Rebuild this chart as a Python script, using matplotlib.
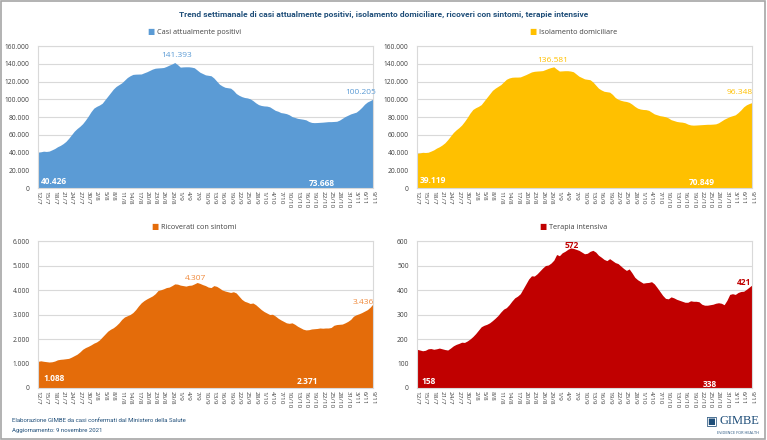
import numpy as np
import pandas as pd
import matplotlib
matplotlib.use("Agg")
import matplotlib.pyplot as plt
from matplotlib.ticker import FuncFormatter, MultipleLocator
from matplotlib.patches import Rectangle

plt.rcParams['font.family'] = ['Open Sans', 'DejaVu Sans']
narrow = ['Roboto', 'DejaVu Sans']

# giorni dal 12/7/2021 al 9/11/2021
giorni = pd.date_range('2021-07-12', '2021-11-09', freq='D')
etichette = [f"{d.day}/{d.month}" for d in giorni]

# Casi attualmente positivi (migliaia)
positivi = [40.426, 40.8, 41.5, 41.2, 41.6, 43.0, 44.5,
            46.5, 48.0, 50.0, 52.5, 56.0, 60.0, 64.0,
            67.0, 69.5, 72.5, 76.5, 81.0, 86.0, 90.0,
            92.0, 93.5, 95.5, 99.5, 103.5, 107.5, 111.5,
            114.5, 116.5, 118.5, 121.5, 124.5, 126.5, 128.0,
            128.3, 128.4, 128.5, 129.8, 131.0, 132.5, 134.0,
            135.0, 135.3, 135.5, 135.8, 137.0, 138.5, 139.8,
            141.393, 139.0, 136.2, 136.5, 136.6, 136.6, 136.2,
            135.5, 133.0, 130.5, 129.0, 127.5, 127.0, 126.5,
            124.0, 120.5, 117.0, 115.0, 113.5, 113.0, 112.5,
            110.0, 106.5, 104.5, 103.0, 102.0, 101.5, 100.5,
            98.5, 96.0, 94.0, 93.0, 92.5, 92.3, 91.5,
            89.5, 87.5, 86.5, 85.0, 84.5, 83.8, 82.5,
            80.5, 79.5, 78.5, 78.0, 77.5, 76.8, 75.0,
            73.9, 73.668, 73.8, 74.0, 74.2, 74.5, 74.8,
            74.8, 75.0, 75.2, 76.5, 78.5, 80.5, 82.0,
            83.5, 84.5, 85.5, 88.0, 91.0, 94.5, 97.0,
            98.5, 100.205]

# Isolamento domiciliare (migliaia)
isolamento = [39.119, 39.5, 40.2, 40.0, 40.3, 41.6, 43.0,
              45.0, 46.5, 48.5, 51.0, 54.5, 58.5, 62.5,
              65.5, 68.0, 71.0, 75.0, 79.5, 84.5, 88.5,
              90.5, 92.0, 94.0, 98.0, 102.0, 106.0, 110.0,
              112.5, 114.5, 116.5, 119.5, 122.5, 124.0, 124.8,
              125.0, 125.0, 125.2, 126.5, 127.8, 129.3, 130.8,
              131.5, 131.8, 132.0, 132.3, 133.5, 134.8, 135.8,
              136.581, 134.0, 131.8, 132.0, 132.2, 132.2, 131.8,
              131.0, 128.5, 126.0, 124.5, 123.0, 122.5, 122.0,
              119.5, 116.0, 112.5, 110.5, 109.0, 108.5, 108.0,
              105.5, 102.0, 100.0, 98.8, 98.0, 97.5, 96.5,
              94.5, 92.0, 90.0, 89.0, 88.5, 88.3, 87.5,
              85.5, 83.5, 82.5, 81.5, 81.0, 80.3, 79.0,
              77.0, 76.0, 75.0, 74.5, 74.2, 73.5, 72.0,
              71.1, 70.849, 71.0, 71.2, 71.4, 71.6, 71.8,
              71.8, 72.0, 72.3, 73.5, 75.5, 77.5, 79.0,
              80.5, 81.5, 82.5, 85.0, 88.0, 91.5, 93.8,
              95.2, 96.348]

# Ricoverati con sintomi
ricoverati = [1088, 1110, 1090, 1075, 1060, 1070, 1100,
              1150, 1170, 1180, 1195, 1210, 1260, 1320,
              1380, 1470, 1580, 1650, 1700, 1760, 1830,
              1880, 1960, 2080, 2200, 2320, 2400, 2460,
              2550, 2660, 2800, 2900, 2950, 3000, 3080,
              3200, 3350, 3480, 3570, 3640, 3700, 3760,
              3850, 3980, 4010, 4050, 4100, 4120, 4180,
              4250, 4240, 4200, 4180, 4160, 4190, 4200,
              4250, 4307, 4270, 4220, 4180, 4120, 4100,
              4180, 4150, 4080, 4000, 3960, 3930, 3900,
              3930, 3880, 3750, 3620, 3540, 3500, 3450,
              3470, 3400, 3300, 3200, 3120, 3060, 3000,
              3010, 2940, 2850, 2780, 2720, 2660, 2640,
              2660, 2600, 2520, 2460, 2400, 2371, 2380,
              2410, 2420, 2430, 2450, 2440, 2450, 2450,
              2470, 2560, 2590, 2600, 2610, 2660, 2720,
              2800, 2930, 2990, 3030, 3080, 3140, 3200,
              3300, 3436]

# Terapia intensiva
intensiva = [158, 155, 152, 154, 160, 161, 158,
             160, 163, 160, 157, 155, 163, 172,
             178, 182, 187, 186, 192, 200, 210,
             222, 236, 250, 256, 260, 266, 275,
             285, 296, 310, 322, 328, 340, 355,
             368, 375, 385, 405, 425, 445, 458,
             457, 466, 478, 490, 500, 502, 510,
             522, 545, 540, 552, 558, 566, 572,
             570, 566, 562, 555, 548, 550, 558,
             562, 555, 542, 534, 525, 520, 528,
             520, 512, 508, 498, 488, 480, 486,
             470, 452, 442, 435, 428, 430, 431,
             434, 425, 410, 394, 378, 366, 364,
             372, 368, 362, 358, 354, 350, 350,
             356, 354, 354, 352, 342, 338, 338,
             340, 342, 346, 348, 346, 340, 358,
             382, 385, 382, 390, 394, 395, 403,
             412, 421]

pannelli = [
    dict(nome='Casi attualmente positivi', y=np.array(positivi) * 1000, col='#5B9BD5',
         col_top='#5B9BD5', ymax=160000, step=20000, pos=[0.0495, 0.5727, 0.4368, 0.3227],
         lab=[(49.5, 149000, '141.393', 'top'), (115.5, 108000, '100.205', 'top'),
              (1, 7000, '40.426', 'in'), (101.5, 5600, '73.668', 'in')]),
    dict(nome='Isolamento domiciliare', y=np.array(isolamento) * 1000, col='#FFC000',
         col_top='#FFC000', ymax=160000, step=20000, pos=[0.5437, 0.5727, 0.4368, 0.3227],
         lab=[(48.5, 144000, '136.581', 'top'), (115.5, 108000, '96.348', 'top'),
              (1, 8000, '39.119', 'in'), (102, 5700, '70.849', 'in')]),
    dict(nome='Ricoverati con sintomi', y=np.array(ricoverati), col='#E46C0A',
         col_top='#F08A3C', ymax=6000, step=1000, pos=[0.0495, 0.1182, 0.4368, 0.334],
         lab=[(56.5, 4490, '4.307', 'top'), (116.5, 3510, '3.436', 'top'),
              (2, 370, '1.088', 'in'), (96.5, 245, '2.371', 'in')]),
    dict(nome='Terapia intensiva', y=np.array(intensiva), col='#C00000',
         col_top='#C00000', ymax=600, step=100, pos=[0.5437, 0.1182, 0.4368, 0.334],
         lab=[(55.5, 580, '572', 'top'), (117, 432, '421', 'top'),
              (1.5, 25, '158', 'in'), (105, 16, '338', 'in')]),
]

fig = plt.figure(figsize=(7.67, 4.4), dpi=100)
fig.patches.append(Rectangle((0.001, 0.002), 0.997, 0.996, transform=fig.transFigure,
                             fill=False, edgecolor='#A6A6A6', linewidth=1.2))

fig.text(0.5, 0.968, 'Trend settimanale di casi attualmente positivi, isolamento domiciliare, '
         'ricoveri con sintomi, terapie intensive', ha='center', va='center',
         fontsize=6.0, fontweight='bold', color='#1F4E79', family=narrow)

renderer = fig.canvas.get_renderer()
x = np.arange(len(giorni))
for p in pannelli:
    ax = fig.add_axes(p['pos'])
    ax.fill_between(x, 0, p['y'], color=p['col'], linewidth=0)
    ax.set_xlim(0, len(giorni) - 1)
    ax.set_ylim(0, p['ymax'])
    ax.yaxis.set_major_locator(MultipleLocator(p['step']))
    ax.yaxis.set_major_formatter(FuncFormatter(lambda v, _: f"{int(v):,}".replace(',', '.')))
    ax.grid(axis='y', color='#D9D9D9', linewidth=0.8)
    ax.set_axisbelow(True)
    ax.set_xticks(x[::3])
    ax.set_xticklabels(etichette[::3], rotation=270, fontsize=4.6, color='#404040')
    ax.tick_params(axis='y', labelsize=4.8, colors='#404040', length=0, pad=6)
    ax.tick_params(axis='x', length=0, pad=2)
    for s in ax.spines.values():
        s.set_color('#D9D9D9')
        s.set_linewidth(0.8)
    for xi, yi, txt, kind in p['lab']:
        if kind == 'top':
            ax.text(xi, yi, txt, ha='center', va='center', fontsize=6, color=p['col_top'],
                    fontweight='bold' if p['col'] == '#C00000' else 'normal')
        else:
            ax.text(xi, yi, txt, ha='left' if xi < 10 else 'center', va='center', fontsize=6,
                    color='white', fontweight='bold')
    # legenda: quadratino + testo, centrata sopra il grafico
    bb = ax.get_position()
    ytxt = bb.y1 + 0.03
    lx = bb.x0 + bb.width * 0.48
    t = fig.text(lx, ytxt, p['nome'], ha='center', va='center', fontsize=5.2, color='#404040')
    ext = t.get_window_extent(renderer)
    x0 = ext.x0 / fig.bbox.width
    fig.text(x0 - 0.003, ytxt, '\u25A0', ha='right', va='center', fontsize=5.5, color=p['col'])

fig.text(0.016, 0.044, 'Elaborazione GIMBE da casi confermati dal Ministero della Salute',
         fontsize=4.3, color='#1F4E79', va='center', family=narrow)
fig.text(0.016, 0.022, 'Aggiornamento: 9 novembre 2021', fontsize=4.3, color='#1F4E79',
         va='center', family=narrow)
fig.text(0.928, 0.044, '\u25A3', fontsize=9, color='#1F4E79', ha='center', va='center')
fig.text(0.99, 0.044, 'GIMBE', fontsize=9, color='#1F4E79', ha='right', va='center',
         family='Liberation Serif')
fig.text(0.99, 0.017, 'EVIDENCE FOR HEALTH', fontsize=2.8, color='#1F4E79', ha='right',
         va='center')

fig.savefig('out.png', dpi=100)
